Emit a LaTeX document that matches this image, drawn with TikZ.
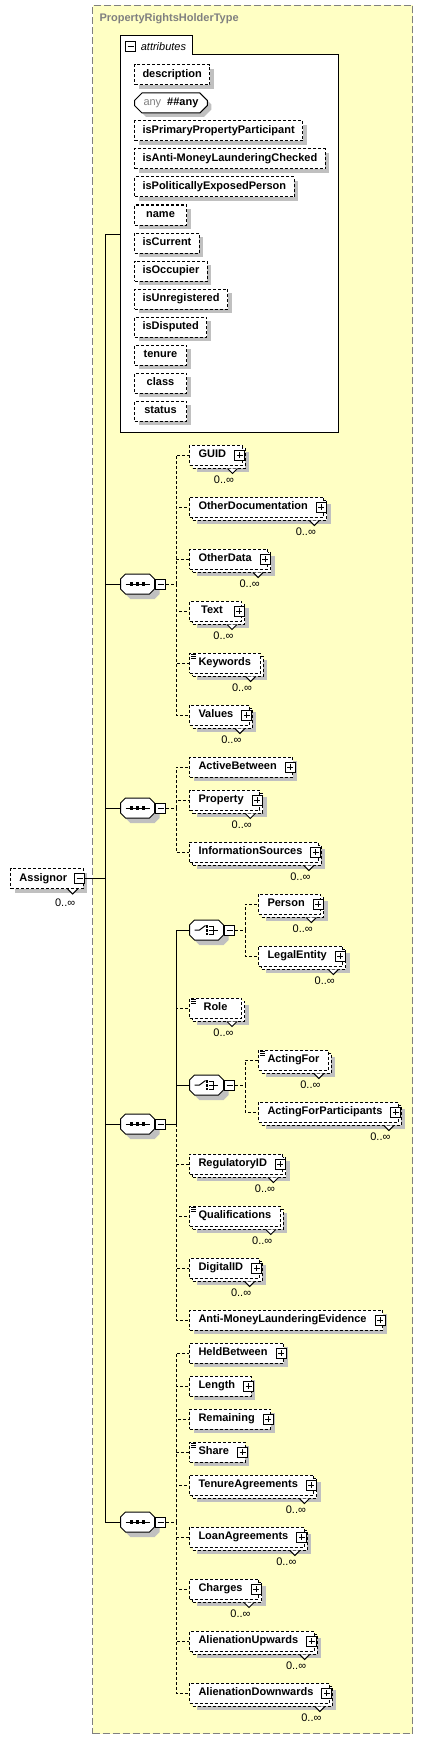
\documentclass[tikz,border=0pt]{standalone}
\usepackage{fontspec}
\setmainfont{Liberation Sans}
\usetikzlibrary{positioning,shapes.misc,shadows}
\definecolor{holderyellow}{RGB}{255,255,196}
\definecolor{shadowgray}{RGB}{192,192,192}
\definecolor{framegray}{RGB}{128,128,128}

\newcommand{\octapath}{(-12,-10) -- (12,-10) -- (17,-5) -- (17,5) -- (12,10) -- (-12,10) -- (-17,5) -- (-17,-5) -- cycle}
% sequence compositor
\newcommand{\seqmark}[1]{%
  \begin{scope}[shift={(#1.center)}]
    \fill[shadowgray, shift={(5,5)}] \octapath;
    \draw[fill=white] \octapath;
    \draw (-12,0) -- (12,0);
    \foreach \dx in {-6,0,6} \fill[black] (\dx,0) +(-1.6,-1.6) rectangle +(1.6,1.6);
  \end{scope}}
% choice compositor
\newcommand{\choicemark}[1]{%
  \begin{scope}[shift={(#1.center)}]
    \fill[shadowgray, shift={(5,5)}] \octapath;
    \draw[fill=white] \octapath;
    \draw (-12,0) -- (-7,0) -- (-1,-4.5);
    \foreach \dy in {-3.5,0.5,4} \fill[black] (0.3,\dy) +(-1.3,-1.3) rectangle +(1.3,1.3);
    \draw (2.4,-3.8) -- (7,-3.8) -- (7,4.2) -- (2.4,4.2) (2.4,0) -- (11,0);
  \end{scope}}

\tikzset{
  box/.style={draw, dash pattern=on 3pt off 2pt, fill=white, anchor=west,
    minimum height=20pt, minimum width=52pt, inner xsep=9pt, inner ysep=0pt,
    text height=8pt, text depth=2.5pt, font=\fontsize{11}{13}\selectfont\bfseries},
  attr/.style={box, inner xsep=8pt,
    general shadow={fill=shadowgray, shadow xshift=4pt, shadow yshift=-4pt}},
  elem/.style={box,
    general shadow={fill=shadowgray, shadow xshift=4pt, shadow yshift=-4pt}},
  many/.style={box,
    general shadow={fill=shadowgray, shadow xshift=7pt, shadow yshift=-7pt},
    general shadow={draw, fill=white, dash pattern=on 3pt off 2pt, shadow xshift=3pt, shadow yshift=-3pt}},
  plusroom/.style={execute at end node={\hspace{7pt}}},
  anyattr/.style={chamfered rectangle, chamfered rectangle xsep=4pt, draw, fill=white, anchor=west,
    minimum height=20pt, inner xsep=5pt, inner ysep=0pt, text height=8pt, text depth=2.5pt,
    font=\fontsize{11}{13}\selectfont\bfseries,
    general shadow={fill=shadowgray, shadow xshift=4pt, shadow yshift=-4pt}},
  comp/.style={minimum width=34pt, minimum height=20pt, inner sep=0pt, anchor=west},
  minusbox/.style={draw, solid, fill=white, minimum size=10pt, inner sep=0pt, anchor=west,
    path picture={\draw ([xshift=2pt]path picture bounding box.west) -- ([xshift=-2pt]path picture bounding box.east);}},
  plusicon/.pic={\draw[solid, fill=white] (-5,-5) rectangle (5,5); \draw[solid] (-3,0) -- (3,0) (0,-3) -- (0,3);},
  occ/.style={anchor=north east, inner sep=0pt, font=\fontsize{11}{13}\selectfont},
  opt/.style={dash pattern=on 3pt off 2pt},
}

\begin{document}
\begin{tikzpicture}[x=1pt, y=-1pt, line width=1pt]
\useasboundingbox (0,0) rectangle (422,1739);

% complex type frame
\node[draw=framegray, dash pattern=on 7pt off 3pt, fill=holderyellow, anchor=north west,
  minimum width=320pt, minimum height=1728pt, inner sep=0pt] (holder) at (92,5) {};
\node[anchor=base west, inner sep=0pt, text=framegray, font=\fontsize{11}{13}\selectfont\bfseries] (holdertitle) at (99,22) {PropertyRightsHolderType};

% attributes
\node[anchor=north west, minimum width=217pt, minimum height=395pt, inner sep=0pt] (attrs) at (120,36) {};
\draw[fill=white] (attrs.north west) -- ++(72,0) -- ++(0,19) -| (attrs.south east) -- (attrs.south west) -- cycle;
\node[minusbox] (attrsm) at (125,47) {};
\node[right=1pt of attrsm, font=\fontsize{11}{13}\selectfont\itshape] (attrslabel) {attributes};
\foreach \n/\y/\lbl in {desc/75/description, isprimary/131/isPrimaryPropertyParticipant,
    isaml/159/isAnti-MoneyLaunderingChecked, ispep/187/isPoliticallyExposedPerson,
    aname/215/name, iscurrent/243/isCurrent, isoccupier/271/isOccupier,
    isunreg/299/isUnregistered, isdisputed/327/isDisputed, atenure/355/tenure,
    aclass/383/class, astatus/411/status}
  \node[attr] (\n) at (134,\y) {\lbl};
\node[anyattr] (anyattr) at (134,103) {\textcolor{framegray}{\mdseries any}\hspace{6pt}\#\#any};

% root element
\node[elem, plusroom] (assignor) at (10,878.5) {Assignor};
\node[minusbox, anchor=center] (assignorm) at ([xshift=-4pt]assignor.east) {};
\draw[solid, fill=white] ([xshift=-16pt]assignor.south east) -- ++(5,5) -- ++(5,-5);
\node[occ] (assignorocc) at ([xshift=-8pt,yshift=-9pt]assignor.south east) {0..∞};
\coordinate (hub) at (105,878.5);
\draw (assignorm) -- (hub);
\draw (hub) |- (attrs.west);

% sequences
\foreach \s/\y in {seqA/584, seqB/808, seqC/1124, seqD/1522} {
  \node[comp] (\s) at (120,\y) {};
  \seqmark{\s}
  \node[minusbox] (\s m) at (\s.east) {};
  \coordinate[right=10pt of \s m] (\s fork);
  \draw (hub) |- (\s.west);
}
\draw[opt] (seqAm) -- (seqAfork);
\draw[opt] (seqBm) -- (seqBfork);
\draw (seqCm) -- (seqCfork);
\draw[opt] (seqDm) -- (seqDfork);

% choices
\foreach \c/\y in {choiceA/930, choiceB/1085} {
  \node[comp] (\c) at (189,\y) {};
  \choicemark{\c}
  \node[minusbox] (\c m) at (\c.east) {};
  \coordinate[right=10pt of \c m] (\c fork);
  \draw[opt] (\c m) -- (\c fork);
}

% child elements
\node[many, plusroom] (guid) at (189,455) {GUID};
\node[many, plusroom] (otherdoc) at (189,507) {OtherDocumentation};
\node[many, plusroom] (otherdata) at (189,559) {OtherData};
\node[many, plusroom] (textel) at (189,611) {Text};
\node[many] (keywords) at (189,663) {Keywords};
\node[many, plusroom] (values) at (189,715) {Values};

\node[elem, plusroom] (activebetween) at (189,767) {ActiveBetween};
\node[many, plusroom] (property) at (189,800) {Property};
\node[many, plusroom] (infosources) at (189,852) {InformationSources};

\node[many, plusroom] (person) at (258,904) {Person};
\node[many, plusroom] (legalentity) at (258,956) {LegalEntity};
\node[many] (role) at (189,1008) {Role};
\node[many] (actingfor) at (258,1060) {ActingFor};
\node[many, plusroom] (actingforparts) at (258,1112) {ActingForParticipants};
\node[many, plusroom] (regulatoryid) at (189,1164) {RegulatoryID};
\node[many] (qualifications) at (189,1216) {Qualifications};
\node[many, plusroom] (digitalid) at (189,1268) {DigitalID};
\node[elem, plusroom] (amlevidence) at (189,1320) {Anti-MoneyLaunderingEvidence};

\node[elem, plusroom] (heldbetween) at (189,1353) {HeldBetween};
\node[elem, plusroom] (lengthel) at (189,1386) {Length};
\node[elem, plusroom] (remaining) at (189,1419) {Remaining};
\node[elem, plusroom] (share) at (189,1452) {Share};
\node[many, plusroom] (tenureagr) at (189,1485) {TenureAgreements};
\node[many, plusroom] (loanagr) at (189,1537) {LoanAgreements};
\node[many, plusroom] (charges) at (189,1589) {Charges};
\node[many, plusroom] (alienup) at (189,1641) {AlienationUpwards};
\node[many, plusroom] (aliendown) at (189,1693) {AlienationDownwards};

% connectors
\foreach \n in {guid,otherdoc,otherdata,textel,keywords,values}
  \draw[opt] (seqAfork) |- (\n.west);
\foreach \n in {activebetween,property,infosources}
  \draw[opt] (seqBfork) |- (\n.west);
\foreach \n in {role,regulatoryid,qualifications,digitalid,amlevidence}
  \draw[opt] (seqCfork) |- (\n.west);
\draw (seqCfork) |- (choiceA.west);
\draw (seqCfork) |- (choiceB.west);
\foreach \n in {person,legalentity}
  \draw[opt] (choiceAfork) |- (\n.west);
\foreach \n in {actingfor,actingforparts}
  \draw[opt] (choiceBfork) |- (\n.west);
\foreach \n in {heldbetween,lengthel,remaining,share,tenureagr,loanagr,charges,alienup,aliendown}
  \draw[opt] (seqDfork) |- (\n.west);

% icons and occurrences
\foreach \n in {guid,otherdoc,otherdata,textel,values,activebetween,property,infosources,
    person,legalentity,actingforparts,regulatoryid,digitalid,amlevidence,heldbetween,
    lengthel,remaining,share,tenureagr,loanagr,charges,alienup,aliendown}
  \pic at ([xshift=-3pt]\n.east) {plusicon};
\foreach \n in {keywords,role,actingfor,qualifications,share}
  \foreach \dy in {2,4,6}
    \draw[solid, line width=.7pt] ([xshift=2pt,yshift=-\dy pt]\n.north west) -- ++(5,0);
\foreach \n in {guid,otherdoc,otherdata,textel,keywords,values,property,infosources,
    person,legalentity,role,actingfor,actingforparts,regulatoryid,qualifications,digitalid,
    tenureagr,loanagr,charges,alienup,aliendown} {
  \draw[solid, fill=white] ([xshift=-15pt,yshift=-3pt]\n.south east) -- ++(5,5) -- ++(5,-5);
  \node[occ] (\n occ) at ([xshift=-8pt,yshift=-9.5pt]\n.south east) {0..∞};
}
\end{tikzpicture}
\end{document}
